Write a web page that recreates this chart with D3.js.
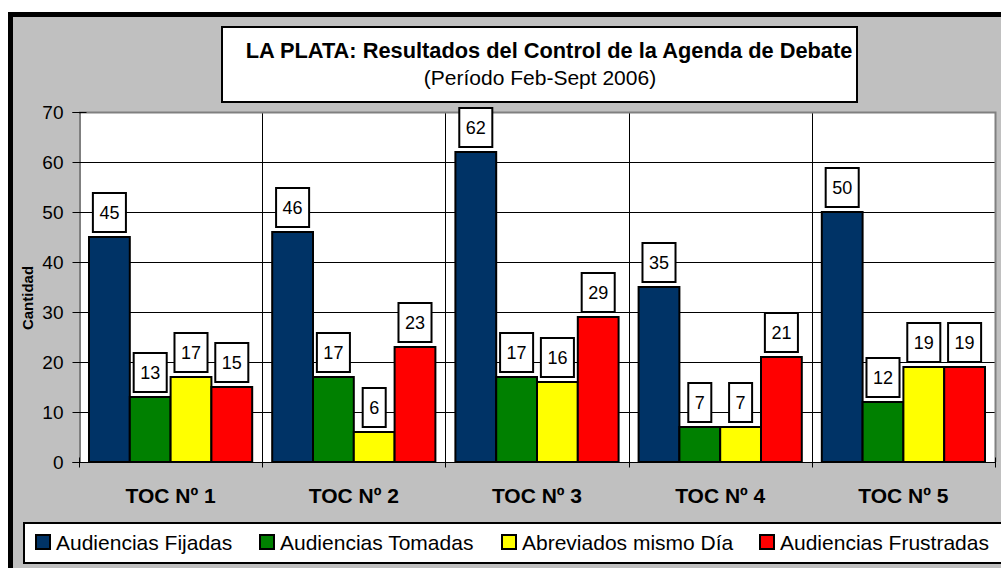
<!DOCTYPE html>
<html>
<head>
<meta charset="utf-8">
<script src="https://cdn.jsdelivr.net/npm/d3@7"></script>
<style>
  html, body { margin: 0; padding: 0; background: #fff; }
  svg { display: block; font-family: "Liberation Sans", Arial, sans-serif; }
</style>
</head>
<body>
<div id="chart"></div>
<script>
// data
const categories = ["TOC Nº 1", "TOC Nº 2", "TOC Nº 3", "TOC Nº 4", "TOC Nº 5"];
const seriesNames = ["Audiencias Fijadas", "Audiencias Tomadas", "Abreviados mismo Día", "Audiencias Frustradas"];
const fijadas = [45, 46, 62, 35, 50];
const tomadas = [13, 17, 17, 7, 12];
const abreviados = [17, 6, 16, 7, 19];
const frustradas = [15, 23, 29, 21, 19];
const yTicks = [0, 10, 20, 30, 40, 50, 60, 70];
const colors = ["#003366", "#008000", "#FFFF00", "#FF0000"];

const seriesValues = [fijadas, tomadas, abreviados, frustradas];

const W = 1001, H = 568;
const plot = { left: 79, right: 995, top: 112, bottom: 462 };

const svg = d3.select("#chart").append("svg")
  .attr("width", W).attr("height", H);

// outer chart frame (gray background, thick black border)
svg.append("rect")
  .attr("x", 10.5).attr("y", 14.5)
  .attr("width", 1010).attr("height", 570)
  .attr("fill", "#C0C0C0")
  .attr("stroke", "#000").attr("stroke-width", 5);

// scales
const x0 = d3.scaleBand().domain(categories).range([plot.left, plot.right]);
const x1 = d3.scaleBand().domain(seriesNames).range([10, x0.bandwidth() - 10]);
const y = d3.scaleLinear().domain([0, 70]).range([plot.bottom, plot.top]);

// plot background
svg.append("rect")
  .attr("x", plot.left).attr("y", plot.top)
  .attr("width", plot.right - plot.left).attr("height", plot.bottom - plot.top)
  .attr("fill", "#fff");

// horizontal gridlines
svg.append("g")
  .selectAll("line")
  .data(yTicks.filter(d => d > 0 && d < 70))
  .join("line")
  .attr("x1", plot.left).attr("x2", plot.right)
  .attr("y1", d => Math.round(y(d)) + 0.5).attr("y2", d => Math.round(y(d)) + 0.5)
  .attr("stroke", "#000").attr("stroke-width", 1);

// vertical gridlines at category boundaries
svg.append("g")
  .selectAll("line")
  .data(categories.slice(1))
  .join("line")
  .attr("x1", d => Math.round(x0(d)) + 0.5).attr("x2", d => Math.round(x0(d)) + 0.5)
  .attr("y1", plot.top).attr("y2", plot.bottom)
  .attr("stroke", "#000").attr("stroke-width", 1);

// gray plot border top/right
svg.append("path")
  .attr("d", `M${plot.left},${plot.top + 0.5}H${plot.right + 0.5}V${plot.bottom}`)
  .attr("fill", "none").attr("stroke", "#808080").attr("stroke-width", 2);

// bars
const groups = svg.append("g")
  .selectAll("g")
  .data(categories)
  .join("g")
  .attr("transform", d => `translate(${x0(d)},0)`);

groups.selectAll("rect")
  .data((c, i) => seriesNames.map((s, j) => ({ s, j, v: seriesValues[j][i] })))
  .join("rect")
  .attr("x", d => x1(d.s))
  .attr("y", d => y(d.v))
  .attr("width", x1.bandwidth())
  .attr("height", d => y(0) - y(d.v))
  .attr("fill", d => colors[d.j])
  .attr("stroke", "#000").attr("stroke-width", 2);

// value labels in white boxes
const labels = groups.selectAll("g.lbl")
  .data((c, i) => seriesNames.map((s, j) => ({ s, j, v: seriesValues[j][i] })))
  .join("g").attr("class", "lbl");

labels.each(function(d) {
  const g = d3.select(this);
  const cx = x1(d.s) + x1.bandwidth() / 2;
  const txt = g.append("text")
    .attr("x", cx).attr("y", y(d.v) - 5 - 13)
    .attr("text-anchor", "middle")
    .attr("font-size", 18)
    .text(d.v);
  const tw = txt.node().getComputedTextLength();
  g.insert("rect", "text")
    .attr("x", cx - tw / 2 - 6.5).attr("y", y(d.v) - 5 - 39)
    .attr("width", tw + 13).attr("height", 39)
    .attr("fill", "#fff").attr("stroke", "#000").attr("stroke-width", 2);
});

// y axis
const yAxis = svg.append("g")
  .attr("transform", `translate(${plot.left + 0.5},0)`)
  .call(d3.axisLeft(y).tickValues(yTicks).tickSize(7).tickPadding(9));
yAxis.select(".domain").attr("stroke", "#000");
yAxis.selectAll(".tick line").attr("x2", -7).attr("x1", 7).attr("stroke", "#000");
yAxis.selectAll(".tick text")
  .attr("font-family", "'Liberation Sans', Arial, sans-serif")
  .attr("font-size", 19).attr("fill", "#000");

// x axis
const xAxis = svg.append("g")
  .attr("transform", `translate(0,${plot.bottom + 0.5})`);
xAxis.append("line")
  .attr("x1", plot.left).attr("x2", plot.right + 1)
  .attr("stroke", "#000");
xAxis.selectAll("line.tk")
  .data(categories.concat(["end"]))
  .join("line").attr("class", "tk")
  .attr("x1", (d, i) => Math.round(i < categories.length ? x0(d) : plot.right) + 0.5)
  .attr("x2", (d, i) => Math.round(i < categories.length ? x0(d) : plot.right) + 0.5)
  .attr("y1", -5).attr("y2", 5)
  .attr("stroke", "#000");
xAxis.selectAll("text")
  .data(categories)
  .join("text")
  .attr("x", d => x0(d) + x0.bandwidth() / 2)
  .attr("y", 40)
  .attr("text-anchor", "middle")
  .attr("font-size", 21).attr("font-weight", "bold")
  .text(d => d);

// y axis title
svg.append("text")
  .attr("transform", `translate(33,${(plot.top + plot.bottom) / 2 + 11}) rotate(-90)`)
  .attr("text-anchor", "middle")
  .attr("font-size", 15).attr("font-weight", "bold")
  .text("Cantidad");

// title box
svg.append("rect")
  .attr("x", 222).attr("y", 27)
  .attr("width", 635).attr("height", 75)
  .attr("fill", "#fff").attr("stroke", "#000").attr("stroke-width", 2);
svg.append("text")
  .attr("x", 549).attr("y", 58)
  .attr("text-anchor", "middle")
  .attr("font-size", 21.8).attr("font-weight", "bold")
  .text("LA PLATA: Resultados del Control de la Agenda de Debate");
svg.append("text")
  .attr("x", 540).attr("y", 85)
  .attr("text-anchor", "middle")
  .attr("font-size", 21)
  .text("(Período Feb-Sept 2006)");

// legend
svg.append("rect")
  .attr("x", 24).attr("y", 523)
  .attr("width", 1000).attr("height", 40)
  .attr("fill", "#fff").attr("stroke", "#000").attr("stroke-width", 2);
const legendX = [36, 260, 502, 760];
const leg = svg.append("g")
  .selectAll("g")
  .data(seriesNames)
  .join("g")
  .attr("transform", (d, i) => `translate(${legendX[i]},542)`);
leg.append("rect")
  .attr("x", 0).attr("y", -7).attr("width", 14).attr("height", 14)
  .attr("fill", (d, i) => colors[i])
  .attr("stroke", "#000").attr("stroke-width", 2);
leg.append("text")
  .attr("x", 20).attr("y", 7.5)
  .attr("font-size", 21)
  .text(d => d);
</script>
</body>
</html>
